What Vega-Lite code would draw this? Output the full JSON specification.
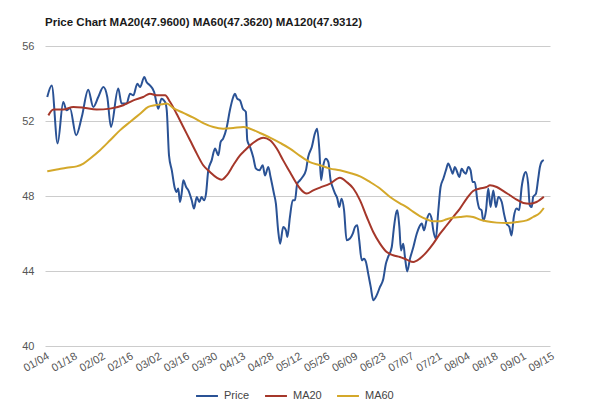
{
  "$schema": "https://vega.github.io/schema/vega-lite/v6.json",
  "width": 505,
  "height": 300,
  "autosize": {"type": "none"},
  "padding": {"left": 45, "top": 46, "right": 50, "bottom": 63},
  "background": "white",
  "title": {
    "text": "Price Chart MA20(47.9600) MA60(47.3620) MA120(47.9312)",
    "anchor": "start",
    "frame": "group",
    "font": "Liberation Sans",
    "fontSize": 11.5,
    "fontWeight": "bold",
    "color": "#1a1a1a",
    "offset": 12
  },
  "config": {
    "view": {"stroke": null},
    "font": "Liberation Sans"
  },
  "data": {
    "values": [
      {"d":0.8,"s":"Price","v":53.28},{"d":2.4,"s":"Price","v":53.9},{"d":4.5,"s":"Price","v":50.8},{"d":6.5,"s":"Price","v":53.01},{"d":7.7,"s":"Price","v":52.57},{"d":8.9,"s":"Price","v":52.68},{"d":11.1,"s":"Price","v":51.24},{"d":13.1,"s":"Price","v":52.21},{"d":15.4,"s":"Price","v":53.67},{"d":17.2,"s":"Price","v":52.75},{"d":19.0,"s":"Price","v":53.28},{"d":20.8,"s":"Price","v":53.81},{"d":22.2,"s":"Price","v":53.28},{"d":23.5,"s":"Price","v":51.68},{"d":26.1,"s":"Price","v":53.73},{"d":27.3,"s":"Price","v":52.93},{"d":29.1,"s":"Price","v":52.93},{"d":30.3,"s":"Price","v":53.46},{"d":31.5,"s":"Price","v":53.37},{"d":32.9,"s":"Price","v":53.99},{"d":33.9,"s":"Price","v":53.81},{"d":35.4,"s":"Price","v":54.35},{"d":36.2,"s":"Price","v":54.08},{"d":37.4,"s":"Price","v":53.9},{"d":38.9,"s":"Price","v":53.55},{"d":39.8,"s":"Price","v":52.93},{"d":40.4,"s":"Price","v":52.66},{"d":41.5,"s":"Price","v":53.19},{"d":42.8,"s":"Price","v":53.01},{"d":43.4,"s":"Price","v":52.57},{"d":44.2,"s":"Price","v":50.17},{"d":45.2,"s":"Price","v":49.37},{"d":46.3,"s":"Price","v":48.4},{"d":46.9,"s":"Price","v":48.21},{"d":47.5,"s":"Price","v":48.4},{"d":48.1,"s":"Price","v":47.68},{"d":48.7,"s":"Price","v":48.13},{"d":49.3,"s":"Price","v":48.84},{"d":50.3,"s":"Price","v":48.48},{"d":51.1,"s":"Price","v":48.3},{"d":52.3,"s":"Price","v":47.77},{"d":53.1,"s":"Price","v":47.33},{"d":54.1,"s":"Price","v":47.95},{"d":55.0,"s":"Price","v":47.68},{"d":55.8,"s":"Price","v":47.95},{"d":56.7,"s":"Price","v":47.77},{"d":57.4,"s":"Price","v":48.13},{"d":58.2,"s":"Price","v":49.37},{"d":59.4,"s":"Price","v":49.9},{"d":60.6,"s":"Price","v":50.53},{"d":61.8,"s":"Price","v":50.17},{"d":62.6,"s":"Price","v":50.88},{"d":63.5,"s":"Price","v":51.06},{"d":64.8,"s":"Price","v":51.68},{"d":65.9,"s":"Price","v":52.57},{"d":67.1,"s":"Price","v":53.28},{"d":67.7,"s":"Price","v":53.46},{"d":68.5,"s":"Price","v":53.19},{"d":69.5,"s":"Price","v":53.1},{"d":70.5,"s":"Price","v":52.66},{"d":71.6,"s":"Price","v":52.48},{"d":72.1,"s":"Price","v":50.97},{"d":73.1,"s":"Price","v":50.61},{"d":74.2,"s":"Price","v":50.08},{"d":75.2,"s":"Price","v":49.46},{"d":76.4,"s":"Price","v":49.37},{"d":77.6,"s":"Price","v":49.64},{"d":78.4,"s":"Price","v":49.1},{"d":79.6,"s":"Price","v":49.55},{"d":80.4,"s":"Price","v":49.01},{"d":81.6,"s":"Price","v":48.13},{"d":82.3,"s":"Price","v":47.59},{"d":83.1,"s":"Price","v":46.17},{"d":83.8,"s":"Price","v":45.46},{"d":84.9,"s":"Price","v":46.35},{"d":85.9,"s":"Price","v":46.17},{"d":86.4,"s":"Price","v":45.81},{"d":87.3,"s":"Price","v":46.88},{"d":88.3,"s":"Price","v":47.77},{"d":89.1,"s":"Price","v":47.77},{"d":89.9,"s":"Price","v":48.66},{"d":90.9,"s":"Price","v":48.84},{"d":91.8,"s":"Price","v":49.01},{"d":93.0,"s":"Price","v":49.37},{"d":93.8,"s":"Price","v":50.08},{"d":95.1,"s":"Price","v":50.61},{"d":96.2,"s":"Price","v":51.33},{"d":97.0,"s":"Price","v":51.59},{"d":97.8,"s":"Price","v":50.44},{"d":98.4,"s":"Price","v":48.84},{"d":99.2,"s":"Price","v":49.64},{"d":100.1,"s":"Price","v":49.99},{"d":101.0,"s":"Price","v":49.81},{"d":101.8,"s":"Price","v":48.84},{"d":102.5,"s":"Price","v":48.48},{"d":103.4,"s":"Price","v":48.13},{"d":104.2,"s":"Price","v":47.86},{"d":104.9,"s":"Price","v":47.41},{"d":105.7,"s":"Price","v":47.86},{"d":106.6,"s":"Price","v":47.24},{"d":107.5,"s":"Price","v":45.64},{"d":108.7,"s":"Price","v":45.73},{"d":109.7,"s":"Price","v":45.99},{"d":110.5,"s":"Price","v":46.35},{"d":111.3,"s":"Price","v":46.44},{"d":112.0,"s":"Price","v":45.64},{"d":112.9,"s":"Price","v":44.57},{"d":113.7,"s":"Price","v":44.66},{"d":114.4,"s":"Price","v":44.48},{"d":115.2,"s":"Price","v":43.86},{"d":116.1,"s":"Price","v":43.15},{"d":117.0,"s":"Price","v":42.44},{"d":118.2,"s":"Price","v":42.7},{"d":119.4,"s":"Price","v":43.15},{"d":120.6,"s":"Price","v":43.59},{"d":121.5,"s":"Price","v":44.39},{"d":122.3,"s":"Price","v":44.75},{"d":123.6,"s":"Price","v":45.28},{"d":124.4,"s":"Price","v":46.35},{"d":125.1,"s":"Price","v":47.06},{"d":125.6,"s":"Price","v":47.24},{"d":126.3,"s":"Price","v":46.35},{"d":126.9,"s":"Price","v":45.1},{"d":127.7,"s":"Price","v":45.46},{"d":128.3,"s":"Price","v":44.75},{"d":129.1,"s":"Price","v":43.98},{"d":130.1,"s":"Price","v":44.66},{"d":131.3,"s":"Price","v":45.28},{"d":132.5,"s":"Price","v":45.99},{"d":133.4,"s":"Price","v":46.35},{"d":134.3,"s":"Price","v":46.53},{"d":135.1,"s":"Price","v":46.17},{"d":136.0,"s":"Price","v":46.7},{"d":137.0,"s":"Price","v":47.06},{"d":137.8,"s":"Price","v":46.8},{"d":138.4,"s":"Price","v":46.17},{"d":139.3,"s":"Price","v":45.73},{"d":140.2,"s":"Price","v":47.24},{"d":141.0,"s":"Price","v":48.48},{"d":142.0,"s":"Price","v":48.93},{"d":142.9,"s":"Price","v":49.37},{"d":143.7,"s":"Price","v":49.73},{"d":144.6,"s":"Price","v":49.46},{"d":145.3,"s":"Price","v":49.19},{"d":146.1,"s":"Price","v":49.55},{"d":146.9,"s":"Price","v":49.28},{"d":147.7,"s":"Price","v":49.01},{"d":148.5,"s":"Price","v":49.46},{"d":149.3,"s":"Price","v":49.28},{"d":150.0,"s":"Price","v":49.19},{"d":150.9,"s":"Price","v":49.55},{"d":151.7,"s":"Price","v":49.37},{"d":152.4,"s":"Price","v":48.75},{"d":153.2,"s":"Price","v":48.75},{"d":154.1,"s":"Price","v":47.77},{"d":154.8,"s":"Price","v":47.33},{"d":155.6,"s":"Price","v":47.24},{"d":156.2,"s":"Price","v":46.7},{"d":157.2,"s":"Price","v":47.24},{"d":158.0,"s":"Price","v":48.4},{"d":158.8,"s":"Price","v":47.41},{"d":159.8,"s":"Price","v":48.3},{"d":160.7,"s":"Price","v":47.41},{"d":161.6,"s":"Price","v":47.95},{"d":162.8,"s":"Price","v":47.68},{"d":163.6,"s":"Price","v":47.06},{"d":164.5,"s":"Price","v":46.53},{"d":165.5,"s":"Price","v":46.35},{"d":166.3,"s":"Price","v":45.9},{"d":167.1,"s":"Price","v":46.88},{"d":168.1,"s":"Price","v":47.33},{"d":169.0,"s":"Price","v":47.24},{"d":169.9,"s":"Price","v":48.48},{"d":170.7,"s":"Price","v":49.1},{"d":171.4,"s":"Price","v":49.28},{"d":172.2,"s":"Price","v":48.66},{"d":172.8,"s":"Price","v":47.5},{"d":173.5,"s":"Price","v":47.41},{"d":174.0,"s":"Price","v":47.95},{"d":175.0,"s":"Price","v":48.13},{"d":175.8,"s":"Price","v":48.93},{"d":176.4,"s":"Price","v":49.55},{"d":177.0,"s":"Price","v":49.82},{"d":177.8,"s":"Price","v":49.91},
      {"d":1.2,"s":"MA20","v":52.3},{"d":3.0,"s":"MA20","v":52.61},{"d":6.5,"s":"MA20","v":52.61},{"d":10.1,"s":"MA20","v":52.75},{"d":13.7,"s":"MA20","v":52.71},{"d":18.4,"s":"MA20","v":52.61},{"d":23.2,"s":"MA20","v":52.66},{"d":27.9,"s":"MA20","v":52.84},{"d":31.5,"s":"MA20","v":53.1},{"d":35.0,"s":"MA20","v":53.28},{"d":37.4,"s":"MA20","v":53.46},{"d":39.8,"s":"MA20","v":53.37},{"d":42.8,"s":"MA20","v":53.37},{"d":44.6,"s":"MA20","v":53.01},{"d":46.9,"s":"MA20","v":52.39},{"d":49.3,"s":"MA20","v":51.68},{"d":51.7,"s":"MA20","v":50.97},{"d":54.1,"s":"MA20","v":50.26},{"d":56.4,"s":"MA20","v":49.64},{"d":58.8,"s":"MA20","v":49.28},{"d":61.2,"s":"MA20","v":48.98},{"d":63.0,"s":"MA20","v":48.87},{"d":64.8,"s":"MA20","v":49.1},{"d":67.1,"s":"MA20","v":49.64},{"d":69.5,"s":"MA20","v":50.17},{"d":71.3,"s":"MA20","v":50.44},{"d":73.1,"s":"MA20","v":50.7},{"d":75.5,"s":"MA20","v":50.97},{"d":77.8,"s":"MA20","v":51.11},{"d":80.2,"s":"MA20","v":50.97},{"d":82.6,"s":"MA20","v":50.53},{"d":84.9,"s":"MA20","v":49.9},{"d":87.3,"s":"MA20","v":49.28},{"d":89.7,"s":"MA20","v":48.66},{"d":90.9,"s":"MA20","v":48.4},{"d":93.3,"s":"MA20","v":48.13},{"d":95.6,"s":"MA20","v":48.3},{"d":98.0,"s":"MA20","v":48.45},{"d":101.6,"s":"MA20","v":48.66},{"d":105.1,"s":"MA20","v":48.98},{"d":107.5,"s":"MA20","v":48.75},{"d":109.9,"s":"MA20","v":48.4},{"d":112.3,"s":"MA20","v":47.77},{"d":114.7,"s":"MA20","v":46.88},{"d":117.0,"s":"MA20","v":46.08},{"d":119.4,"s":"MA20","v":45.46},{"d":121.8,"s":"MA20","v":45.01},{"d":124.1,"s":"MA20","v":44.84},{"d":126.5,"s":"MA20","v":44.75},{"d":128.9,"s":"MA20","v":44.61},{"d":131.3,"s":"MA20","v":44.48},{"d":133.6,"s":"MA20","v":44.66},{"d":136.0,"s":"MA20","v":45.01},{"d":138.4,"s":"MA20","v":45.46},{"d":140.8,"s":"MA20","v":45.99},{"d":143.2,"s":"MA20","v":46.44},{"d":145.5,"s":"MA20","v":46.88},{"d":147.9,"s":"MA20","v":47.33},{"d":150.3,"s":"MA20","v":47.86},{"d":152.6,"s":"MA20","v":48.27},{"d":155.0,"s":"MA20","v":48.4},{"d":157.4,"s":"MA20","v":48.48},{"d":158.6,"s":"MA20","v":48.57},{"d":161.0,"s":"MA20","v":48.48},{"d":163.3,"s":"MA20","v":48.27},{"d":165.7,"s":"MA20","v":48.04},{"d":168.1,"s":"MA20","v":47.81},{"d":170.5,"s":"MA20","v":47.63},{"d":172.8,"s":"MA20","v":47.59},{"d":175.2,"s":"MA20","v":47.68},{"d":177.8,"s":"MA20","v":47.96},
      {"d":0.8,"s":"MA60","v":49.32},{"d":4.2,"s":"MA60","v":49.41},{"d":7.7,"s":"MA60","v":49.51},{"d":11.3,"s":"MA60","v":49.58},{"d":13.7,"s":"MA60","v":49.73},{"d":16.0,"s":"MA60","v":49.99},{"d":19.6,"s":"MA60","v":50.44},{"d":23.2,"s":"MA60","v":50.97},{"d":26.7,"s":"MA60","v":51.5},{"d":30.3,"s":"MA60","v":51.95},{"d":33.9,"s":"MA60","v":52.39},{"d":36.8,"s":"MA60","v":52.75},{"d":39.2,"s":"MA60","v":52.84},{"d":41.6,"s":"MA60","v":52.89},{"d":43.4,"s":"MA60","v":52.93},{"d":45.7,"s":"MA60","v":52.69},{"d":49.3,"s":"MA60","v":52.43},{"d":52.9,"s":"MA60","v":52.18},{"d":56.4,"s":"MA60","v":51.89},{"d":60.0,"s":"MA60","v":51.68},{"d":63.5,"s":"MA60","v":51.59},{"d":67.1,"s":"MA60","v":51.63},{"d":70.7,"s":"MA60","v":51.68},{"d":73.1,"s":"MA60","v":51.59},{"d":76.6,"s":"MA60","v":51.36},{"d":80.2,"s":"MA60","v":51.11},{"d":83.8,"s":"MA60","v":50.83},{"d":87.3,"s":"MA60","v":50.53},{"d":90.9,"s":"MA60","v":50.14},{"d":94.4,"s":"MA60","v":49.81},{"d":98.0,"s":"MA60","v":49.64},{"d":101.6,"s":"MA60","v":49.46},{"d":105.1,"s":"MA60","v":49.37},{"d":108.7,"s":"MA60","v":49.23},{"d":112.3,"s":"MA60","v":49.05},{"d":115.8,"s":"MA60","v":48.75},{"d":119.4,"s":"MA60","v":48.4},{"d":123.0,"s":"MA60","v":47.95},{"d":126.5,"s":"MA60","v":47.61},{"d":128.9,"s":"MA60","v":47.41},{"d":131.3,"s":"MA60","v":47.15},{"d":133.6,"s":"MA60","v":46.93},{"d":136.0,"s":"MA60","v":46.76},{"d":138.4,"s":"MA60","v":46.65},{"d":140.8,"s":"MA60","v":46.65},{"d":143.2,"s":"MA60","v":46.76},{"d":145.5,"s":"MA60","v":46.85},{"d":147.9,"s":"MA60","v":46.88},{"d":150.3,"s":"MA60","v":46.92},{"d":152.6,"s":"MA60","v":46.88},{"d":155.0,"s":"MA60","v":46.74},{"d":157.4,"s":"MA60","v":46.65},{"d":161.0,"s":"MA60","v":46.58},{"d":164.5,"s":"MA60","v":46.56},{"d":168.1,"s":"MA60","v":46.61},{"d":171.7,"s":"MA60","v":46.7},{"d":174.0,"s":"MA60","v":46.88},{"d":176.4,"s":"MA60","v":47.1},{"d":177.8,"s":"MA60","v":47.36}
    ]
  },
  "mark": {"type": "line", "strokeWidth": 2, "interpolate": "monotone"},
  "encoding": {
    "x": {
      "field": "d",
      "type": "quantitative",
      "scale": {"domain": [0, 180], "nice": false, "zero": false},
      "axis": {
        "title": null,
        "values": [0,10,20,30,40,50,60,70,80,90,100,110,120,130,140,150,160,170,180],
        "labelExpr": "['01/04','01/18','02/02','02/16','03/02','03/16','03/30','04/13','04/28','05/12','05/26','06/09','06/23','07/07','07/21','08/04','08/18','09/01','09/15'][round(datum.value/10)]",
        "labelAngle": -30,
        "labelAlign": "right",
        "labelBaseline": "top",
        "labelFontSize": 11,
        "labelColor": "#555555",
        "labelPadding": 4,
        "labelOverlap": false,
        "labelBound": false,
        "labelFlush": false,
        "grid": false,
        "domain": false,
        "ticks": false
      }
    },
    "y": {
      "field": "v",
      "type": "quantitative",
      "scale": {"domain": [40, 56], "nice": false, "zero": false},
      "axis": {
        "title": null,
        "values": [40, 44, 48, 52, 56],
        "labelFontSize": 11,
        "labelColor": "#555555",
        "labelPadding": 11,
        "grid": true,
        "gridColor": "#cccccc",
        "gridWidth": 1,
        "domain": false,
        "ticks": false
      }
    },
    "color": {
      "field": "s",
      "type": "nominal",
      "sort": ["Price", "MA20", "MA60"],
      "scale": {"domain": ["Price", "MA20", "MA60"], "range": ["#2a5295", "#a5372a", "#d4a82a"]},
      "legend": {
        "title": null,
        "orient": "none",
        "legendX": 150,
        "legendY": 338,
        "direction": "horizontal",
        "symbolType": "stroke",
        "symbolSize": 480,
        "symbolStrokeWidth": 2,
        "labelFontSize": 11,
        "labelColor": "#444444",
        "labelOffset": 5,
        "columnPadding": 11
      }
    }
  }
}
